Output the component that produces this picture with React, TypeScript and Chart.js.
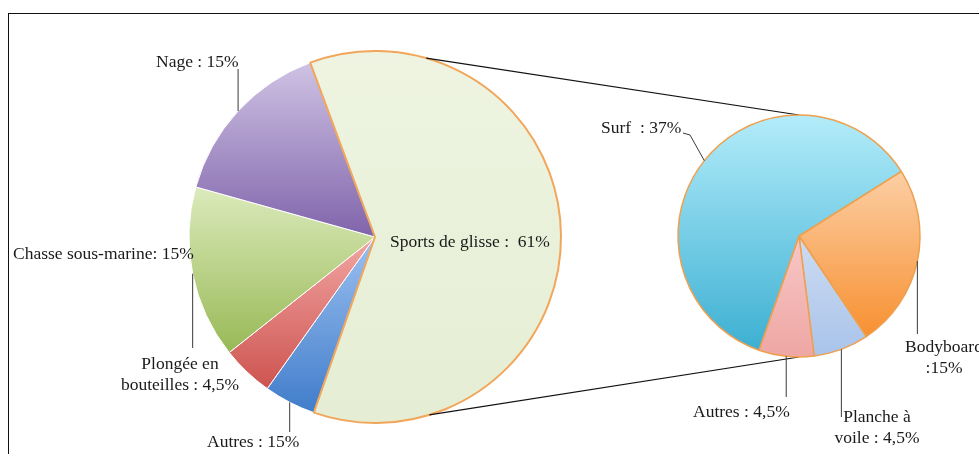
import { useEffect, useRef } from "react";
import { Chart, registerables } from "chart.js";

Chart.register(...registerables);

// ---------- data ----------
const mainCategories = ["Autres", "Plongée en bouteilles", "Chasse sous-marine", "Nage", "Sports de glisse"];
const mainValues = [4.5, 4.5, 15, 15, 61];
const mainLabelTexts = ["Autres : 15%", "Plongée en\nbouteilles : 4,5%", "Chasse sous-marine: 15%", "Nage : 15%", "Sports de glisse :  61%"];

const subCategories = ["Bodyboard", "Planche à voile", "Autres", "Surf"];
const subValues = [15, 4.5, 4.5, 37];
const subLabelTexts = ["Bodyboard\n:15%", "Planche à\nvoile : 4,5%", "Autres : 4,5%", "Surf  : 37%"];

// ---------- layout & style ----------
const W = 979;
const H = 454;
const FONT = '17.5px "Liberation Serif", "Times New Roman", serif';
const LINE_H = 21;

type Fill = { c0: string; c1: string; f0: number; f1: number };
const mainFills: Fill[] = [
  { c0: "#9cc0f0", c1: "#3b79c8", f0: 0.5, f1: 1.0 },
  { c0: "#f2a6a3", c1: "#c94b47", f0: 0.5, f1: 0.95 },
  { c0: "#dcebbd", c1: "#97b854", f0: 0.36, f1: 0.82 },
  { c0: "#cfc3e4", c1: "#8064ab", f0: 0.03, f1: 0.5 },
  { c0: "#eef4e1", c1: "#e5eed4", f0: 0, f1: 1 },
];
const mainBorders = ["#ffffff", "#ffffff", "#ffffff", "#ffffff", "#f2a65a"];
const mainBorderW = [1, 1, 1, 1, 2];

const subFills: Fill[] = [
  { c0: "#fccda2", c1: "#f79030", f0: 0.25, f1: 0.92 },
  { c0: "#cddcf2", c1: "#a9c3ea", f0: 0.5, f1: 1.0 },
  { c0: "#f7c8c7", c1: "#eea6a3", f0: 0.5, f1: 1.0 },
  { c0: "#b3ecfa", c1: "#3fb1d3", f0: 0.0, f1: 0.95 },
];
const subBorder = "#eea04e";

type LabelPos = { x: number; y: number; align: CanvasTextAlign; leader?: Array<[number | null, number]> };
const mainLabelPos: LabelPos[] = [
  { x: 207, y: 442, align: "left", leader: [[null, 432]] },
  { x: 180, y: 364, align: "center" },
  { x: 13, y: 254, align: "left", leader: [[null, 348]] },
  { x: 156, y: 62, align: "left", leader: [[null, 69]] },
  { x: 390, y: 242, align: "left" },
];
const subLabelPos: LabelPos[] = [
  { x: 944, y: 347, align: "center", leader: [[null, 334]] },
  { x: 877, y: 417, align: "center", leader: [[null, 417]] },
  { x: 693, y: 412, align: "left", leader: [[null, 397]] },
  { x: 601, y: 128, align: "left", leader: [[690, 135], [683, 133]] },
];

const connectorAngles = [16, 163]; // degrees, clockwise from top, on the main pie

function gradientFill(fills: Fill[]) {
  return (ctx: any) => {
    const f = fills[ctx.dataIndex];
    const chart = ctx.chart;
    const area = chart.chartArea;
    if (!area) return f.c0;
    const h = area.bottom - area.top;
    const g = chart.ctx.createLinearGradient(0, area.top + f.f0 * h, 0, area.top + f.f1 * h);
    g.addColorStop(0, f.c0);
    g.addColorStop(1, f.c1);
    return g;
  };
}

function labelPlugin(id: string, texts: string[], pos: LabelPos[]) {
  return {
    id,
    afterDatasetsDraw(chart: any) {
      const ctx: CanvasRenderingContext2D = chart.ctx;
      const arcs = chart.getDatasetMeta(0).data;
      ctx.save();
      // leaders
      ctx.strokeStyle = "#3a3a3a";
      ctx.lineWidth = 1;
      pos.forEach((p, i) => {
        if (!p.leader) return;
        const el: any = arcs[i];
        const mid = (el.startAngle + el.endAngle) / 2;
        let x = el.x + Math.cos(mid) * el.outerRadius;
        let y = el.y + Math.sin(mid) * el.outerRadius;
        ctx.beginPath();
        ctx.moveTo(x, y);
        p.leader.forEach(([lx, ly]) => {
          x = lx === null ? x : lx;
          y = ly;
          ctx.lineTo(x, y);
        });
        ctx.stroke();
      });
      // texts
      ctx.font = FONT;
      ctx.fillStyle = "#1a1a1a";
      ctx.textBaseline = "middle";
      pos.forEach((p, i) => {
        ctx.textAlign = p.align;
        texts[i].split("\n").forEach((line, k) => {
          ctx.fillText(line, p.x, p.y + k * LINE_H);
        });
      });
      ctx.restore();
    },
  };
}

export default function App() {
  const mainRef = useRef<HTMLCanvasElement | null>(null);
  const subRef = useRef<HTMLCanvasElement | null>(null);

  useEffect(() => {
    if (!mainRef.current || !subRef.current) return;

    const mainChart = new Chart(mainRef.current, {
      type: "pie",
      data: {
        labels: mainCategories,
        datasets: [
          {
            data: mainValues,
            backgroundColor: gradientFill(mainFills) as any,
            borderColor: mainBorders,
            borderWidth: mainBorderW,
            hoverOffset: 0,
          },
        ],
      },
      options: {
        animation: false,
        responsive: true,
        maintainAspectRatio: false,
        events: [],
        rotation: 199.2,
        radius: 186,
        layout: { padding: { left: 189, right: W - 561, top: 51, bottom: H - 423 } },
        plugins: { legend: { display: false }, tooltip: { enabled: false } },
      },
      plugins: [labelPlugin("mainLabels", mainLabelTexts, mainLabelPos)],
    });

    const connectorPlugin = {
      id: "connectors",
      beforeDatasetsDraw(chart: any) {
        const mEl: any = mainChart.getDatasetMeta(0).data[mainValues.length - 1];
        const sEl: any = chart.getDatasetMeta(0).data[0];
        if (!mEl || !sEl) return;
        const ctx: CanvasRenderingContext2D = chart.ctx;
        const ends = [sEl.y - sEl.outerRadius, sEl.y + sEl.outerRadius];
        ctx.save();
        ctx.strokeStyle = "#111111";
        ctx.lineWidth = 1.2;
        connectorAngles.forEach((deg, k) => {
          const a = ((deg - 90) * Math.PI) / 180;
          ctx.beginPath();
          ctx.moveTo(mEl.x + Math.cos(a) * mEl.outerRadius, mEl.y + Math.sin(a) * mEl.outerRadius);
          ctx.lineTo(sEl.x, ends[k]);
          ctx.stroke();
        });
        ctx.restore();
      },
    };

    const subChart = new Chart(subRef.current, {
      type: "pie",
      data: {
        labels: subCategories,
        datasets: [
          {
            data: subValues,
            backgroundColor: gradientFill(subFills) as any,
            borderColor: subBorder,
            borderWidth: 1.5,
            hoverOffset: 0,
          },
        ],
      },
      options: {
        animation: false,
        responsive: true,
        maintainAspectRatio: false,
        events: [],
        rotation: 57.7,
        radius: 121,
        layout: { padding: { left: 678, right: W - 920, top: 115, bottom: H - 357 } },
        plugins: { legend: { display: false }, tooltip: { enabled: false } },
      },
      plugins: [connectorPlugin, labelPlugin("subLabels", subLabelTexts, subLabelPos)],
    });

    return () => {
      subChart.destroy();
      mainChart.destroy();
    };
  }, []);

  const layer: React.CSSProperties = { position: "absolute", left: 0, top: 0, width: W, height: H };

  return (
    <div style={{ position: "absolute", left: 0, top: 0, width: W, height: H, overflow: "hidden", background: "#ffffff" }}>
      <div
        style={{
          position: "absolute",
          left: 8,
          top: 13,
          width: 1100,
          height: 600,
          borderTop: "1.5px solid #111",
          borderLeft: "1.5px solid #111",
          boxSizing: "border-box",
        }}
      />
      <div style={layer}>
        <canvas ref={mainRef} />
      </div>
      <div style={layer}>
        <canvas ref={subRef} />
      </div>
    </div>
  );
}
